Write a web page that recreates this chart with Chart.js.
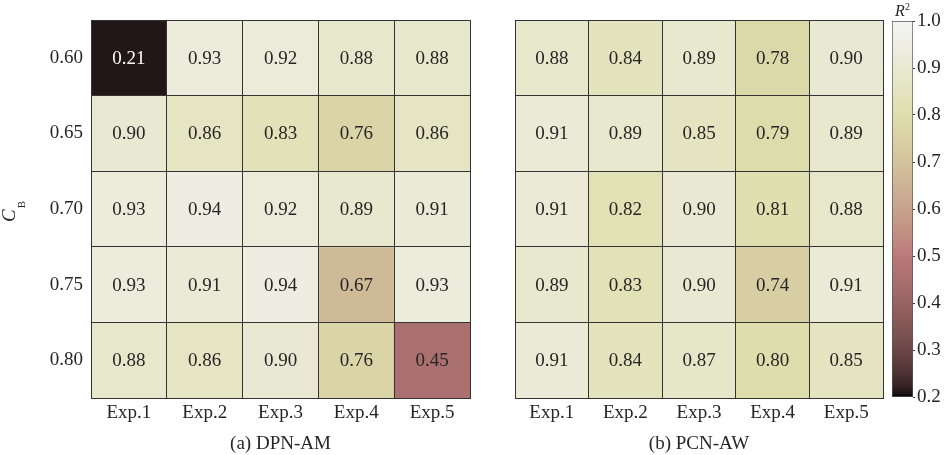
<!DOCTYPE html>
<html>
<head>
<meta charset="utf-8">
<script src="https://cdn.jsdelivr.net/npm/chart.js@4/dist/chart.umd.min.js"></script>
<style>
  html, body { margin: 0; padding: 0; background: #fff; }
  #wrap { position: relative; width: 951px; height: 455px; }
  .pane { position: absolute; top: 0; height: 455px; }
</style>
</head>
<body>
<div id="wrap">
  <div class="pane" style="left:0;width:480px"><canvas id="dpn"></canvas></div>
  <div class="pane" style="left:480px;width:420px"><canvas id="pcn"></canvas></div>
  <div class="pane" style="left:880px;width:71px"><canvas id="cbar"></canvas></div>
</div>
<script>
// Experiments (columns) and C_B thresholds (rows)
const expLabels = ['Exp.1', 'Exp.2', 'Exp.3', 'Exp.4', 'Exp.5'];
const cbLabels = ['0.60', '0.65', '0.70', '0.75', '0.80'];

// R^2 values, one array per C_B row
const dpnAM = [
  [0.21, 0.93, 0.92, 0.88, 0.88],
  [0.90, 0.86, 0.83, 0.76, 0.86],
  [0.93, 0.94, 0.92, 0.89, 0.91],
  [0.93, 0.91, 0.94, 0.67, 0.93],
  [0.88, 0.86, 0.90, 0.76, 0.45]
];
const pcnAW = [
  [0.88, 0.84, 0.89, 0.78, 0.90],
  [0.91, 0.89, 0.85, 0.79, 0.89],
  [0.91, 0.82, 0.90, 0.81, 0.88],
  [0.89, 0.83, 0.90, 0.74, 0.91],
  [0.91, 0.84, 0.87, 0.80, 0.85]
];

// colour limits of the colour bar
const colorLimits = [0.2, 1.0];
const colorbarStep = 0.1;

const FONT = 'Liberation Serif';
const TEXT = '#262626';
const LINE = '#333333';
const SHADE = 0.955;

// "pink" colormap: sqrt((2*gray + hot)/3), t in [0, 1]
function pinkAt(t) {
  t = Math.max(0, Math.min(1, t));
  const clamp = x => Math.max(0, Math.min(1, x));
  const hot = [clamp(t / 0.375), clamp((t - 0.375) / 0.375), clamp((t - 0.75) / 0.25)];
  const [r, g, b] = hot.map(h => Math.round(255 * SHADE * Math.sqrt((2 * t + h) / 3)));
  return `rgb(${r},${g},${b})`;
}
function pinkColor(v) {
  return pinkAt((v - colorLimits[0]) / (colorLimits[1] - colorLimits[0]));
}

// writes the R^2 value in the middle of every cell
const cellText = {
  id: 'cellText',
  afterDraw(chart) {
    const ctx = chart.ctx;
    ctx.save();
    ctx.font = `19px "${FONT}"`;
    ctx.textAlign = 'center';
    ctx.textBaseline = 'middle';
    chart.data.datasets.forEach((ds, i) => {
      chart.getDatasetMeta(i).data.forEach((bar, j) => {
        const v = ds.values[j];
        ctx.fillStyle = v < 0.35 ? '#ffffff' : TEXT;
        ctx.fillText(v.toFixed(2), bar.x, (bar.y + bar.base) / 2 + 1);
      });
    });
    ctx.restore();
  }
};

// rotated C_B label with subscript
const rowTitle = {
  id: 'rowTitle',
  afterDraw(chart) {
    const ctx = chart.ctx;
    ctx.save();
    ctx.translate(15, 222);
    ctx.rotate(-Math.PI / 2);
    ctx.fillStyle = TEXT;
    ctx.textAlign = 'left';
    ctx.textBaseline = 'alphabetic';
    ctx.font = `italic 19px "${FONT}"`;
    ctx.fillText('C', 0, 0);
    const w = ctx.measureText('C').width;
    ctx.font = `11px "${FONT}"`;
    ctx.fillText('B', w + 1, 10);
    ctx.restore();
  }
};

function heatmap(id, values, title, showRows) {
  const datasets = values.map((row, i) => ({
    data: row.map(() => [i, i + 1]),
    values: row,
    backgroundColor: row.map(pinkColor),
    borderWidth: 0,
    grouped: false,
    barPercentage: 1,
    categoryPercentage: 1
  }));
  return new Chart(document.getElementById(id), {
    type: 'bar',
    data: { labels: expLabels, datasets },
    plugins: showRows ? [cellText, rowTitle] : [cellText],
    options: {
      responsive: true,
      maintainAspectRatio: false,
      animation: false,
      layout: { padding: { top: 20, right: showRows ? 10 : 17, left: 0, bottom: 0 } },
      plugins: { legend: { display: false }, tooltip: { enabled: false } },
      scales: {
        x: {
          type: 'category',
          offset: true,
          grid: { offset: true, color: LINE, lineWidth: 1, drawTicks: false, z: 1 },
          border: { display: true, color: LINE, z: 1 },
          ticks: { color: TEXT, font: { family: FONT, size: 19 }, padding: 4 },
          title: {
            display: true, text: title, color: TEXT,
            font: { family: FONT, size: 19 }, padding: { top: 0, bottom: 0 }
          },
          afterFit(s) { s.height = 57; }
        },
        y: {
          type: 'linear',
          min: 0,
          max: cbLabels.length,
          reverse: true,
          afterBuildTicks(s) {
            const t = [];
            for (let k = 0; k <= cbLabels.length * 2; k++) t.push({ value: k / 2 });
            s.ticks = t;
          },
          grid: {
            color: c => (c.tick && c.tick.value % 1 === 0) ? LINE : 'rgba(0,0,0,0)',
            lineWidth: 1,
            drawTicks: false,
            z: 1
          },
          border: { display: true, color: LINE, z: 1 },
          ticks: {
            display: showRows,
            autoSkip: false,
            color: TEXT,
            font: { family: FONT, size: 19 },
            padding: 8,
            callback: v => (v % 1 ? cbLabels[Math.floor(v)] : '')
          },
          afterFit(s) { s.width = showRows ? 91 : 35; }
        }
      }
    }
  });
}

heatmap('dpn', dpnAM, '(a) DPN-AM', true);
heatmap('pcn', pcnAW, '(b) PCN-AW', false);

// colour bar title R^2
const barTitle = {
  id: 'barTitle',
  afterDraw(chart) {
    const ctx = chart.ctx;
    const a = chart.chartArea;
    ctx.save();
    ctx.fillStyle = TEXT;
    ctx.textBaseline = 'alphabetic';
    ctx.font = `italic 16px "${FONT}"`;
    const wR = ctx.measureText('R').width;
    ctx.font = `10px "${FONT}"`;
    const w2 = ctx.measureText('2').width;
    const x0 = (a.left + a.right) / 2 - (wR + w2) / 2;
    ctx.font = `italic 16px "${FONT}"`;
    ctx.fillText('R', x0, 16);
    ctx.font = `10px "${FONT}"`;
    ctx.fillText('2', x0 + wR, 10);
    ctx.restore();
  }
};

new Chart(document.getElementById('cbar'), {
  type: 'bar',
  data: {
    labels: ['R2'],
    datasets: [{
      data: [colorLimits],
      backgroundColor(ctx) {
        const chart = ctx.chart;
        if (!chart.chartArea) return '#fff';
        const y = chart.scales.y;
        const y0 = y.getPixelForValue(colorLimits[0]);
        const y1 = y.getPixelForValue(colorLimits[1]);
        const g = chart.ctx.createLinearGradient(0, y0, 0, y1);
        const n = 100;
        for (let k = 0; k <= n; k++) g.addColorStop(k / n, pinkAt(k / n));
        return g;
      },
      borderColor: '#555555',
      borderWidth: 1,
      borderSkipped: false,
      barPercentage: 1,
      categoryPercentage: 1
    }]
  },
  plugins: [barTitle],
  options: {
    responsive: true,
    maintainAspectRatio: false,
    animation: false,
    layout: { padding: { top: 21, left: 12, right: 0, bottom: 58 } },
    plugins: { legend: { display: false }, tooltip: { enabled: false } },
    scales: {
      x: { display: false },
      y: {
        position: 'right',
        min: colorLimits[0],
        max: colorLimits[1],
        grid: { drawOnChartArea: false, tickLength: 2, color: LINE },
        border: { display: false },
        ticks: {
          stepSize: colorbarStep,
          color: TEXT,
          font: { family: FONT, size: 19 },
          padding: 2,
          callback: v => v.toFixed(1)
        },
        afterFit(s) { s.width = 38; }
      }
    }
  }
});
</script>
</body>
</html>
